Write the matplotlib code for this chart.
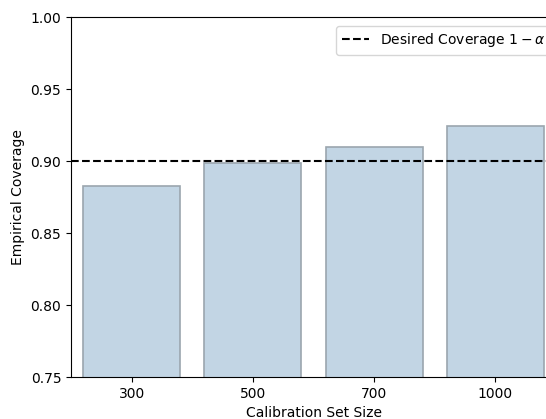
import matplotlib
matplotlib.use('Agg')
import matplotlib.pyplot as plt
import numpy as np

# calibration set sizes and observed coverage
sizes = ['300', '500', '700', '1000']
coverage = [0.8825, 0.8985, 0.9095, 0.9243]
alpha_target = 0.90

fig = plt.figure(figsize=(5.46, 4.19), dpi=100)
ax = fig.add_axes([71 / 546, 42 / 419, 485 / 546, 360 / 419])

x = np.arange(len(sizes))
ax.bar(x, coverage, width=0.8, color='#c2d5e4', edgecolor='#9ba6ae', linewidth=1.2)
ax.axhline(alpha_target, color='black', linestyle='--', linewidth=1.5,
           label=r'Desired Coverage $1-\alpha$')

ax.set_xticks(x)
ax.set_xticklabels(sizes)
ax.set_xlim(-0.5, 3.5)
ax.set_ylim(0.75, 1.0)
ax.set_yticks([0.75, 0.80, 0.85, 0.90, 0.95, 1.00])
ax.set_xlabel('Calibration Set Size')
ax.set_ylabel('Empirical Coverage')
ax.spines['right'].set_visible(False)
ax.legend(loc='upper right', fontsize=10, bbox_to_anchor=(1.005, 0.995))

fig.savefig('out.png', dpi=100)
